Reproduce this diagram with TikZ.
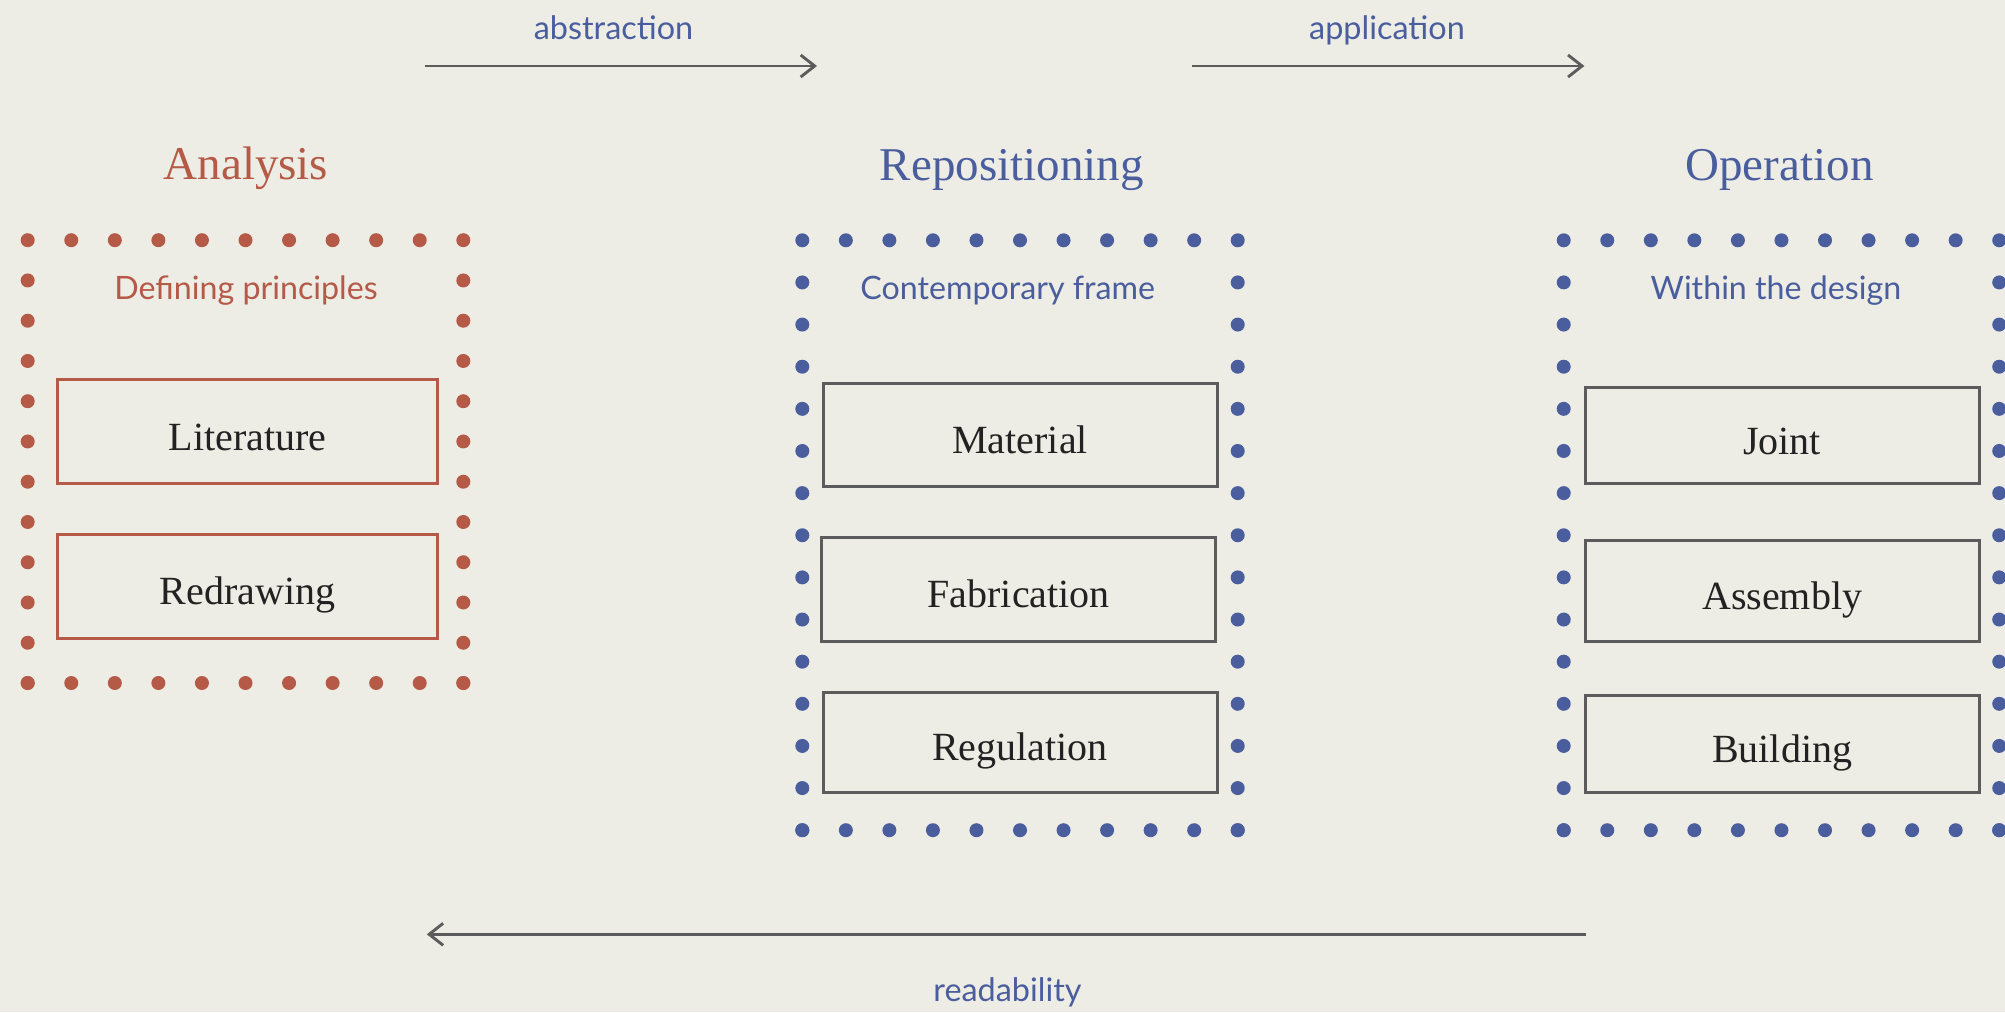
\documentclass[tikz,border=0pt]{standalone}
\usepackage{fontspec}
\setmainfont{Liberation Serif}
\newfontfamily\labelfont{Lato}
\usetikzlibrary{arrows.meta}
\definecolor{bg}{HTML}{EDECE5}
\definecolor{rust}{HTML}{B45A47}
\definecolor{navy}{HTML}{4A5E9E}
\definecolor{lgray}{HTML}{5C5C5C}
\definecolor{ink}{HTML}{222222}
\tikzset{
  title/.style={anchor=base, font=\fontsize{23.5}{26}\selectfont, inner sep=0pt},
  sublabel/.style={anchor=base, font=\labelfont\fontsize{16.1}{19}\selectfont, inner sep=0pt},
  arrlabel/.style={anchor=base, font=\labelfont\fontsize{16.2}{19}\selectfont, inner sep=0pt, text=navy},
  itembox/.style={draw, line width=1.5pt, inner sep=0pt, text=ink,
    font=\fontsize{20}{24}\selectfont, text height=18.5pt, text depth=0pt},
  flow/.style={draw=lgray, line width=1.45pt, -{Straight Barb[length=7pt, width=11pt, line width=1.45pt]}},
  dotty/.style={fill=#1, draw=none},
}
\newcommand\dotframe[7]{% x1,y1,x2,y2,nh,nv,color
  \foreach \i in {0,...,#5}{
    \fill[dotty=#7] ({#1+(#3-#1)*\i/#5},#2) circle[radius=3.5pt];
    \fill[dotty=#7] ({#1+(#3-#1)*\i/#5},#4) circle[radius=3.5pt];
  }
  \foreach \j in {1,...,#6}{
    \fill[dotty=#7] (#1,{#2+(#4-#2)*\j/#6}) circle[radius=3.5pt];
    \fill[dotty=#7] (#3,{#2+(#4-#2)*\j/#6}) circle[radius=3.5pt];
  }
}
\begin{document}
\begin{tikzpicture}[x=0.5pt, y=-0.5pt]
\fill[bg] (0,0) rectangle (2005,1012);
\useasboundingbox (0,0) rectangle (2005,1012);

% arrows
\coordinate (abs1) at (424.5,66); \coordinate (abs2) at (817,66);
\coordinate (app1) at (1191.9,66); \coordinate (app2) at (1584.4,66);
\coordinate (rd1) at (1585.9,934.3); \coordinate (rd2) at (426.8,934.3);
\draw[flow] (abs1) -- (abs2);
\draw[flow] (app1) -- (app2);
\draw[flow] (rd1) -- (rd2);
\node[arrlabel] (labs) at (613.5,39.3) {abstraction};
\node[arrlabel] (lapp) at (1387,39.3) {application};
\node[arrlabel] (lrd) at (1007.5,1001.5) {readability};

% titles
\node[title, text=rust] (tan) at (246,179) {Analysis};
\node[title, text=navy] (trep) at (1011.7,180) {Repositioning};
\node[title, text=navy] (top) at (1779.5,180) {Operation};

% dotted frames
\dotframe{27.7}{240.2}{463.3}{683}{10}{11}{rust}
\dotframe{802.3}{240.3}{1237.7}{830.2}{10}{14}{navy}
\dotframe{1563.7}{240.3}{1999.2}{830.2}{10}{14}{navy}

% sub labels
\node[sublabel, text=rust] (san) at (246,299.4) {Defining principles};
\node[sublabel, text=navy] (srep) at (1007.7,299.3) {Contemporary frame};
\node[sublabel, text=navy] (sop) at (1776,299) {Within the design};

% boxes
\node[itembox, draw=rust, minimum width=190.2pt, minimum height=52pt] (lit) at (247.5,431.7) {Literature};
\node[itembox, draw=rust, minimum width=190.2pt, minimum height=52pt] (red) at (247.5,586) {Redrawing};
\node[itembox, draw=lgray, minimum width=196.85pt, minimum height=51.7pt] (mat) at (1020.15,435) {Material};
\node[itembox, draw=lgray, minimum width=197pt, minimum height=52.15pt] (fab) at (1018.7,589.35) {Fabrication};
\node[itembox, draw=lgray, minimum width=197pt, minimum height=50pt] (reg) at (1020,742) {Regulation};
\node[itembox, draw=lgray, minimum width=196.85pt, minimum height=48.15pt] (joi) at (1782.15,435.75) {Joint};
\node[itembox, draw=lgray, minimum width=196.85pt, minimum height=50.5pt] (ass) at (1782.15,591) {Assembly};
\node[itembox, draw=lgray, minimum width=196.85pt, minimum height=48.35pt] (bui) at (1782.15,743.65) {Building};
\end{tikzpicture}
\end{document}
